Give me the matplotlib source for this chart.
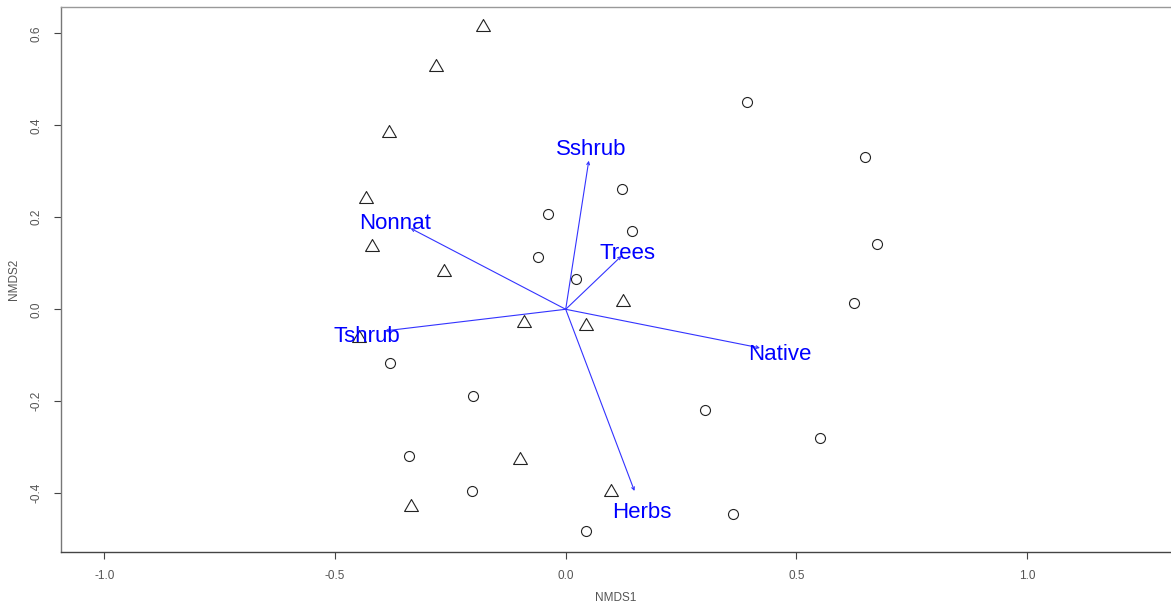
import matplotlib
matplotlib.use('Agg')
import matplotlib.pyplot as plt

plt.rcParams['font.family'] = ['Liberation Sans', 'DejaVu Sans']

# site scores, group 1 (triangles)
tri_x = [-0.179, -0.281, -0.382, -0.433, -0.419, -0.263, 0.125, -0.090, 0.043, -0.447, -0.099, 0.098, -0.336]
tri_y = [0.613, 0.527, 0.383, 0.239, 0.135, 0.080, 0.015, -0.030, -0.036, -0.063, -0.328, -0.398, -0.429]

# site scores, group 2 (circles)
circ_x = [0.393, 0.649, 0.122, -0.038, 0.143, 0.674, -0.060, 0.023, 0.624, -0.381, -0.200, 0.302, 0.550, -0.340, -0.203, 0.363, 0.044]
circ_y = [0.451, 0.332, 0.261, 0.208, 0.171, 0.142, 0.114, 0.065, 0.014, -0.116, -0.188, -0.218, -0.279, -0.319, -0.394, -0.444, -0.482]

# fitted vectors
vec_names = ['Sshrub', 'Trees', 'Nonnat', 'Tshrub', 'Native', 'Herbs']
vec_x = [0.050, 0.121, -0.336, -0.392, 0.421, 0.149]
vec_y = [0.323, 0.116, 0.176, -0.047, -0.084, -0.395]

fig = plt.figure(figsize=(11.71, 6.07), dpi=100)
ax = fig.add_axes([61 / 1171, 54.7 / 607, 1110 / 1171, 545 / 607])

# equilateral-ish triangle like R pch=2
tri_marker = [(-1, -0.577), (1, -0.577), (0, 1.155), (-1, -0.577)]
ax.plot(tri_x, tri_y, linestyle='none', marker=tri_marker, ms=11.5,
        mfc='none', mec='#222222', mew=0.8)
ax.plot(circ_x, circ_y, linestyle='none', marker='o', ms=7.2,
        mfc='none', mec='#222222', mew=0.8)

for name, vx, vy in zip(vec_names, vec_x, vec_y):
    ax.annotate('', xy=(vx, vy), xytext=(0, 0),
                arrowprops=dict(arrowstyle='->', color='#3333ff', lw=0.8,
                                mutation_scale=5, shrinkA=0, shrinkB=0))
    # labels sit a bit beyond the arrow tips
    ax.annotate(name, xy=(vx * 1.1, vy * 1.1), xytext=(0, -2.3),
                textcoords='offset points', color='blue', fontsize=16,
                ha='center', va='center')

ax.set_xlim(-1.0936, 1.3116)
ax.set_ylim(-0.5283, 0.6565)
ax.set_xticks([-1.0, -0.5, 0.0, 0.5, 1.0])
ax.set_yticks([-0.4, -0.2, 0.0, 0.2, 0.4, 0.6])
ax.set_xticklabels(['-1.0', '-0.5', '0.0', '0.5', '1.0'])
ax.set_yticklabels(['-0.4', '-0.2', '0.0', '0.2', '0.4', '0.6'],
                   rotation=90, va='center')
ax.tick_params(direction='out', length=5, width=0.8, colors='#444444',
               labelcolor='#555555', labelsize=8.5)
ax.tick_params(axis='x', pad=8)
ax.tick_params(axis='y', pad=8)
ax.set_xlabel('NMDS1', fontsize=8.5, color='#555555', labelpad=7)
ax.set_ylabel('NMDS2', fontsize=8.5, color='#555555', labelpad=8)

ax.spines['right'].set_visible(False)
ax.spines['top'].set_color('#999999')
ax.spines['left'].set_color('#777777')
ax.spines['bottom'].set_color('#444444')
for s in ax.spines.values():
    s.set_linewidth(1.0)

fig.savefig('out.png', dpi=100)
